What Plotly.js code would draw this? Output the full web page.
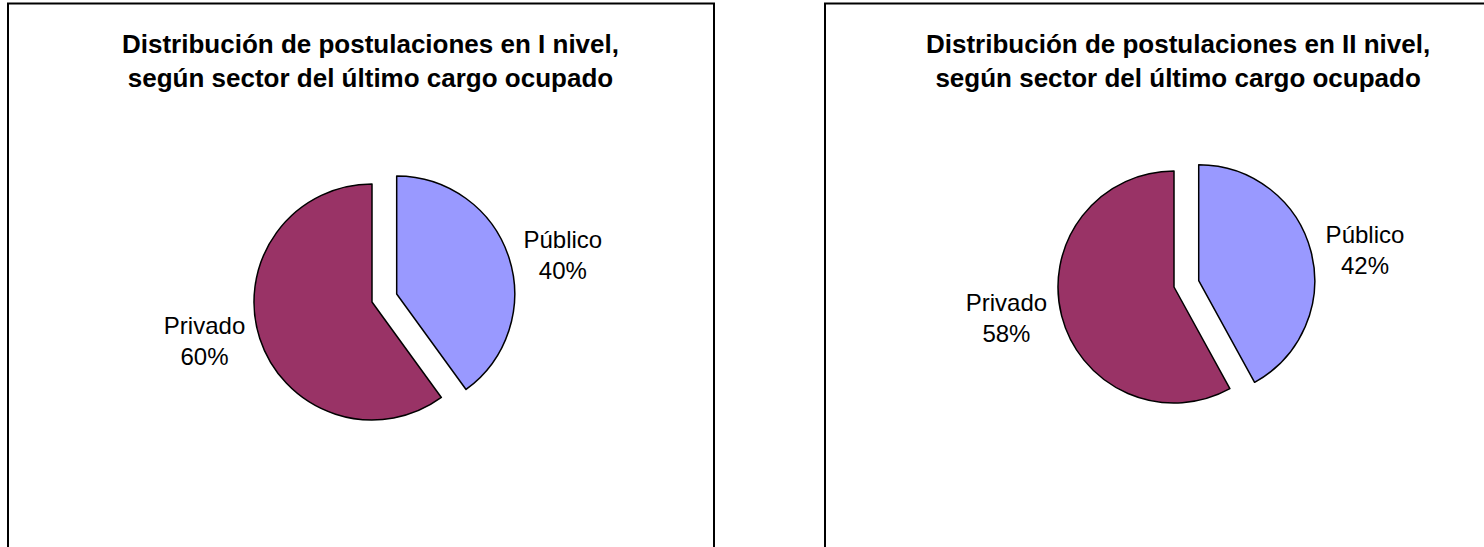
<!DOCTYPE html>
<html>
<head>
<meta charset="utf-8">
<script src="https://cdn.plot.ly/plotly-3.0.1.min.js"></script>
<style>
  html, body { margin: 0; padding: 0; background: #ffffff; }
  #chart { width: 1484px; height: 547px; }
</style>
</head>
<body>
<div id="chart"></div>
<script>
// Data
var sectors = ["Público", "Privado"];
var nivelI = [40, 60];
var nivelII = [42, 58];
var titleI = "Distribución de postulaciones en I nivel,<br>según sector del último cargo ocupado";
var titleII = "Distribución de postulaciones en II nivel,<br>según sector del último cargo ocupado";

var W = 1484, H = 547;
function px(x) { return x / W; }
function py(y) { return 1 - y / H; }

var sliceColors = ["#9999FF", "#993366"];
var fontFam = "Liberation Sans, Arial, sans-serif";

function pieTrace(values, cx, cy, r, pull) {
  var half = r * (1 + pull);
  return {
    type: "pie",
    labels: sectors,
    values: values,
    sort: false,
    direction: "clockwise",
    rotation: 0,
    pull: [pull, 0],
    marker: { colors: sliceColors, line: { color: "#000000", width: 1.5 } },
    textinfo: "label+percent",
    texttemplate: "%{label}<br>%{percent}",
    textposition: "outside",
    outsidetextfont: { family: fontFam, size: 24, color: "#000000" },
    hoverinfo: "label+percent",
    showlegend: false,
    domain: { x: [px(cx - half), px(cx + half)], y: [py(cy + half), py(cy - half)] }
  };
}

var data = [
  pieTrace(nivelI, 372, 302, 118, 0.22),
  pieTrace(nivelII, 1174, 287, 116, 0.22)
];

var layout = {
  width: W, height: H,
  margin: { l: 0, r: 0, t: 0, b: 0 },
  paper_bgcolor: "#ffffff",
  font: { family: fontFam, color: "#000000" },
  shapes: [
    { type: "rect", xref: "paper", yref: "paper", x0: px(8), x1: px(714), y0: -0.2, y1: py(3.5),
      line: { color: "#000000", width: 2 }, fillcolor: "rgba(0,0,0,0)" },
    { type: "rect", xref: "paper", yref: "paper", x0: px(825), x1: 1.2, y0: -0.2, y1: py(3.5),
      line: { color: "#000000", width: 2 }, fillcolor: "rgba(0,0,0,0)" }
  ],
  annotations: [
    { text: "<b>" + titleI + "</b>", xref: "paper", yref: "paper", x: px(370), y: py(61),
      xanchor: "center", yanchor: "middle", showarrow: false,
      font: { family: fontFam, size: 26, color: "#000000" } },
    { text: "<b>" + titleII + "</b>", xref: "paper", yref: "paper", x: px(1178), y: py(61),
      xanchor: "center", yanchor: "middle", showarrow: false,
      font: { family: fontFam, size: 26, color: "#000000" } }
  ]
};

Plotly.newPlot("chart", data, layout, { displayModeBar: false, staticPlot: true });
</script>
</body>
</html>
